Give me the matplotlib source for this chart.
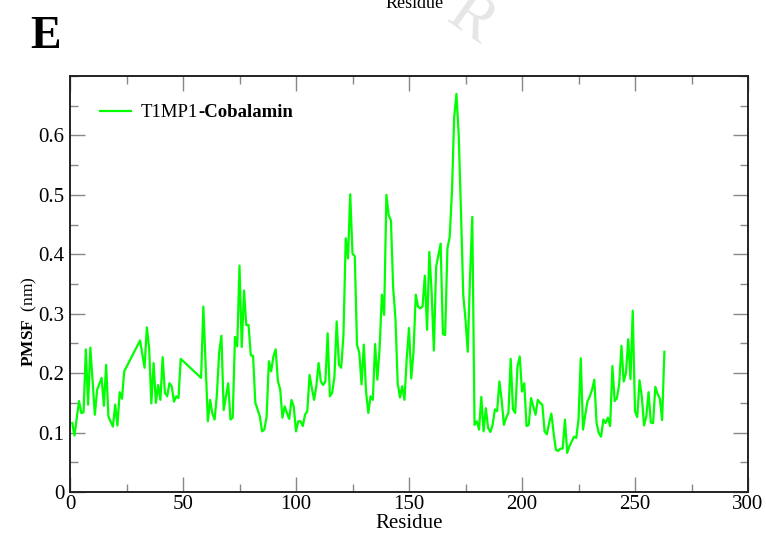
"""PMSF of T1MP1-Cobalamin per residue (panel E)."""

import matplotlib
matplotlib.use("Agg")
import matplotlib.pyplot as plt
from matplotlib.ticker import MultipleLocator

plt.rcParams["font.family"] = ["Liberation Serif", "DejaVu Serif"]
plt.rcParams["mathtext.fontset"] = "custom"
plt.rcParams["mathtext.rm"] = "Liberation Serif"
plt.rcParams["mathtext.bf"] = "Liberation Serif:bold"

# residue numbers (gaps where residues are missing)
residue = [
    1, 2, 3, 4, 5, 6, 7, 8, 9, 11, 12, 14, 15, 16, 17, 19, 20, 21, 22, 23, 24,
    31, 33, 34, 35, 36, 37, 38, 39, 40, 41, 42, 43, 44, 45, 46, 47, 48, 49,
    58, 59, 61, 62, 63, 64, 65, 66, 67, 68, 70, 71, 72, 73, 74, 75, 76, 77,
    78, 79, 80, 81, 82, 83, 84, 85, 86, 87, 88, 89, 90, 91, 92, 93, 94, 95,
    96, 97, 98, 99, 100, 101, 102, 103, 104, 105, 106, 107, 108, 109, 110,
    111, 112, 113, 114, 115, 116, 117, 118, 119, 120, 121, 122, 123, 124, 125,
    126, 127, 128, 129, 130, 131, 132, 133, 134, 135, 136, 137, 138, 139, 140,
    141, 142, 143, 144, 145, 146, 147, 148, 149, 150, 151, 152, 153, 154, 155,
    156, 157, 158, 159, 160, 161, 162, 163, 164, 165, 166, 167, 168, 169, 170,
    171, 172, 173, 174, 175, 176, 177, 178, 179, 180, 181, 182, 183, 184, 185,
    186, 187, 188, 189, 190, 191, 192, 193, 194, 195, 196, 197, 198, 199, 200,
    201, 202, 203, 204, 205, 206, 207, 208, 209, 210, 211, 212, 213, 214, 215,
    216, 217, 218, 219, 220, 221, 222, 223, 224, 225, 226, 227, 228, 229, 230,
    231, 232, 233, 234, 235, 236, 237, 238, 239, 240, 241, 242, 243, 244, 245,
    246, 247, 248, 249, 250, 251, 252, 253, 254, 255, 256, 257, 258, 259, 260,
    261, 262, 263,
]
pmsf = [
    0.116, 0.095, 0.125, 0.153, 0.133, 0.134, 0.240, 0.147, 0.243, 0.130, 0.172,
    0.192, 0.145, 0.214, 0.127, 0.110, 0.147, 0.112, 0.168, 0.157, 0.203,
    0.255, 0.209, 0.277, 0.243, 0.149, 0.217, 0.150, 0.180, 0.155, 0.227,
    0.167, 0.161, 0.183, 0.178, 0.152, 0.161, 0.158, 0.224,
    0.192, 0.312, 0.119, 0.155, 0.132, 0.122, 0.164, 0.235, 0.263, 0.138,
    0.183, 0.122, 0.125, 0.261, 0.245, 0.381, 0.244, 0.339,
    0.281, 0.281, 0.230, 0.229, 0.150, 0.139, 0.127, 0.102, 0.105, 0.127,
    0.220, 0.203, 0.228, 0.240, 0.186, 0.173, 0.125, 0.144,
    0.133, 0.123, 0.155, 0.144, 0.102, 0.119, 0.119, 0.111, 0.130, 0.136,
    0.197, 0.175, 0.155, 0.178, 0.217,
    0.186, 0.180, 0.186, 0.267, 0.161, 0.167, 0.194, 0.287, 0.214, 0.209,
    0.264, 0.427, 0.393, 0.501, 0.401,
    0.397, 0.248, 0.234, 0.181, 0.248, 0.169, 0.133, 0.161, 0.155, 0.249,
    0.189, 0.242, 0.332, 0.298, 0.500,
    0.466, 0.457, 0.343, 0.292, 0.183, 0.159, 0.178, 0.155, 0.225, 0.276,
    0.191, 0.236, 0.332, 0.312, 0.309,
    0.312, 0.364, 0.273, 0.404, 0.337, 0.238, 0.379, 0.399, 0.418, 0.266,
    0.264, 0.410, 0.429, 0.505, 0.631,
    0.670, 0.600, 0.471, 0.332, 0.290, 0.236, 0.362, 0.463, 0.113, 0.119,
    0.105, 0.160, 0.102, 0.141, 0.108,
    0.101, 0.113, 0.139, 0.136, 0.186, 0.155, 0.113, 0.125, 0.133, 0.224,
    0.139, 0.133, 0.211, 0.228, 0.169,
    0.183, 0.111, 0.113, 0.158, 0.144, 0.130, 0.155, 0.150, 0.147, 0.102,
    0.097, 0.116, 0.132, 0.099, 0.071,
    0.069, 0.073, 0.073, 0.122, 0.066, 0.077, 0.085, 0.093, 0.091, 0.122,
    0.225, 0.105, 0.130, 0.153, 0.161,
    0.172, 0.189, 0.116, 0.099, 0.093, 0.122, 0.116, 0.125, 0.111, 0.212,
    0.153, 0.158, 0.181, 0.246, 0.186,
    0.200, 0.257, 0.190, 0.305, 0.136, 0.126, 0.188, 0.161, 0.112, 0.127,
    0.168, 0.117, 0.116, 0.177, 0.165,
    0.157, 0.121, 0.236,
]

x_ticks = [0, 50, 100, 150, 200, 250, 300]
y_ticks = [0, 0.1, 0.2, 0.3, 0.4, 0.5, 0.6]
y_ticklabels = ["0", "0.1", "0.2", "0.3", "0.4", "0.5", "0.6"]

fig = plt.figure(figsize=(7.66, 5.41), dpi=100)
ax = fig.add_axes([70 / 766, 49 / 541, 678 / 766, 416 / 541])

ax.plot(residue, pmsf, color="#00ff00", lw=1.6, label="T1MP1")

ax.set_xlim(0, 300)
ax.set_ylim(0, 0.7)
ax.set_xticks(x_ticks)
ax.set_yticks(y_ticks)
ax.set_yticklabels(y_ticklabels)
ax.xaxis.set_minor_locator(MultipleLocator(25))
ax.yaxis.set_minor_locator(MultipleLocator(0.05))
ax.tick_params(which="both", direction="in", top=True, right=True,
               color="#888888", width=1, labelsize=15, pad=2)
ax.tick_params(axis="y", pad=4)
ax.tick_params(which="major", length=11)
ax.tick_params(which="minor", length=6)
for s in ax.spines.values():
    s.set_linewidth(1.4)
    s.set_color("#222222")

ax.set_xlabel("Residue", fontsize=15, labelpad=0)
ax.set_ylabel(r"$\mathbf{PMSF}$  (nm)", fontsize=12.5)
ax.yaxis.set_label_coords(-0.045, 0.41)

leg = ax.legend(loc="center left", bbox_to_anchor=(0.044, 0.912), frameon=False,
                fontsize=13.5, handlelength=1.65, handletextpad=0.55,
                borderaxespad=0.0, borderpad=0.0)
# bold tail of the legend entry, placed right after the plain part
fig.canvas.draw()
lt = leg.get_texts()[0]
bb = lt.get_window_extent().transformed(fig.transFigure.inverted())
fig.text(bb.x1, bb.y0, "-Cobalamin", fontsize=13.5, fontweight="bold",
         ha="left", va="bottom")

# panel letter and bits of the panel above
fig.text(30 / 766, 1 - 48 / 541, "E", fontsize=33, fontweight="bold",
         ha="left", va="baseline")
fig.text(415 / 766, 1 - 8 / 541, "Residue", fontsize=13, ha="center",
         va="baseline")
fig.text(470 / 766, 1 - 20 / 541, "R", fontsize=46, color="#e6e6e6",
         rotation=-35, ha="center", va="center", zorder=-1)

fig.savefig("out.png", dpi=100, facecolor="white")
